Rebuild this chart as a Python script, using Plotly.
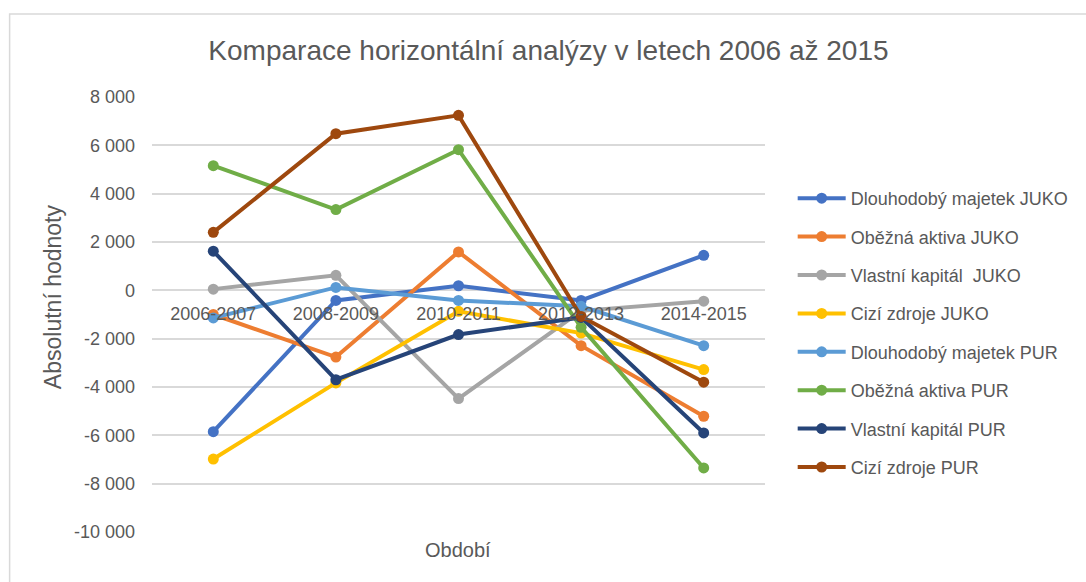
import plotly.graph_objects as go

categories = ["2006-2007", "2008-2009", "2010-2011", "2012-2013", "2014-2015"]

dlouhodoby_majetek_juko = [-5850, -420, 190, -420, 1450]
obezna_aktiva_juko = [-1000, -2760, 1590, -2290, -5210]
vlastni_kapital_juko = [50, 620, -4480, -850, -450]
cizi_zdroje_juko = [-6980, -3830, -870, -1770, -3280]
dlouhodoby_majetek_pur = [-1140, 120, -420, -660, -2290]
obezna_aktiva_pur = [5160, 3340, 5820, -1530, -7350]
vlastni_kapital_pur = [1620, -3700, -1830, -1120, -5900]
cizi_zdroje_pur = [2400, 6480, 7240, -1080, -3800]

series_names = [
    "Dlouhodobý majetek JUKO",
    "Oběžná aktiva JUKO",
    "Vlastní kapitál  JUKO",
    "Cizí zdroje JUKO",
    "Dlouhodobý majetek PUR",
    "Oběžná aktiva PUR",
    "Vlastní kapitál PUR",
    "Cizí zdroje PUR",
]
series_values = [
    dlouhodoby_majetek_juko, obezna_aktiva_juko, vlastni_kapital_juko, cizi_zdroje_juko,
    dlouhodoby_majetek_pur, obezna_aktiva_pur, vlastni_kapital_pur, cizi_zdroje_pur,
]
colors = ["#4472C4", "#ED7D31", "#A5A5A5", "#FFC000", "#5B9BD5", "#70AD47", "#264478", "#9E480E"]

y_ticks = list(range(-10000, 8001, 2000))
y_tick_labels = [f"{v:,}".replace(",", " ") for v in y_ticks]

FONT = "Liberation Sans"
GRAY = "#595959"

fig = go.Figure()
for i, (name, vals, col) in enumerate(zip(series_names, series_values, colors)):
    fig.add_trace(go.Scatter(
        x=categories, y=vals, name=name, mode="lines+markers",
        line=dict(color=col, width=4),
        marker=dict(color=col, size=11),
        legendgroup=f"g{i}",
    ))

W, H = 1086, 582
L, R, T, B = 152, 314, 97, 50
pw, ph = W - L - R, H - T - B

def px_x(x):
    return (x - L) / pw

def px_y(y):
    return (H - B - y) / ph

fig.update_layout(
    width=W, height=H,
    margin=dict(l=L, r=R, t=T, b=B),
    paper_bgcolor="white", plot_bgcolor="white",
    font=dict(family=FONT, color=GRAY, size=14),
    title=dict(text="Komparace horizontální analýzy v letech 2006 až 2015",
               x=px_x(553), xref="paper", xanchor="center",
               y=1 - 50 / H, yanchor="middle",
               font=dict(family=FONT, size=28, color=GRAY)),
    showlegend=True,
    legend=dict(x=px_x(800), y=px_y(180), xanchor="left", yanchor="top",
                font=dict(family=FONT, size=18, color=GRAY),
                tracegroupgap=12, itemwidth=48, bgcolor="rgba(0,0,0,0)"),
    xaxis=dict(type="category", showgrid=False, showline=False, zeroline=False,
               ticks="", anchor="free", position=10 / 18,
               ticklabelstandoff=11,
               tickfont=dict(family=FONT, size=18, color=GRAY),
               range=[-0.5, 4.5]),
    yaxis=dict(range=[-10000, 8000], tickvals=y_ticks, ticktext=y_tick_labels,
               showgrid=True, gridcolor="#D9D9D9", gridwidth=1.5,
               zeroline=False, showline=False, ticks="",
               ticklabelstandoff=16,
               tickfont=dict(family=FONT, size=18, color=GRAY)),
)

fig.add_annotation(text="Absolutní hodnoty", xref="paper", yref="paper",
                   x=px_x(52), y=px_y(297), xanchor="center", yanchor="middle",
                   textangle=-90, showarrow=False,
                   font=dict(family=FONT, size=23, color=GRAY))

fig.add_annotation(text="Období", xref="paper", yref="paper",
                   x=px_x(461), y=px_y(550), xanchor="center", yanchor="middle",
                   showarrow=False, font=dict(family=FONT, size=20, color=GRAY))

# chart area border (top and left edges visible)
fig.add_shape(type="rect", xref="paper", yref="paper",
              x0=px_x(8), x1=px_x(1100), y0=px_y(600), y1=px_y(14),
              line=dict(color="#D9D9D9", width=1.5), fillcolor="rgba(0,0,0,0)", layer="below")

fig.write_html("out.html", config={"displayModeBar": False},
               post_script="document.body.style.margin='0';document.body.style.overflow='hidden';")
